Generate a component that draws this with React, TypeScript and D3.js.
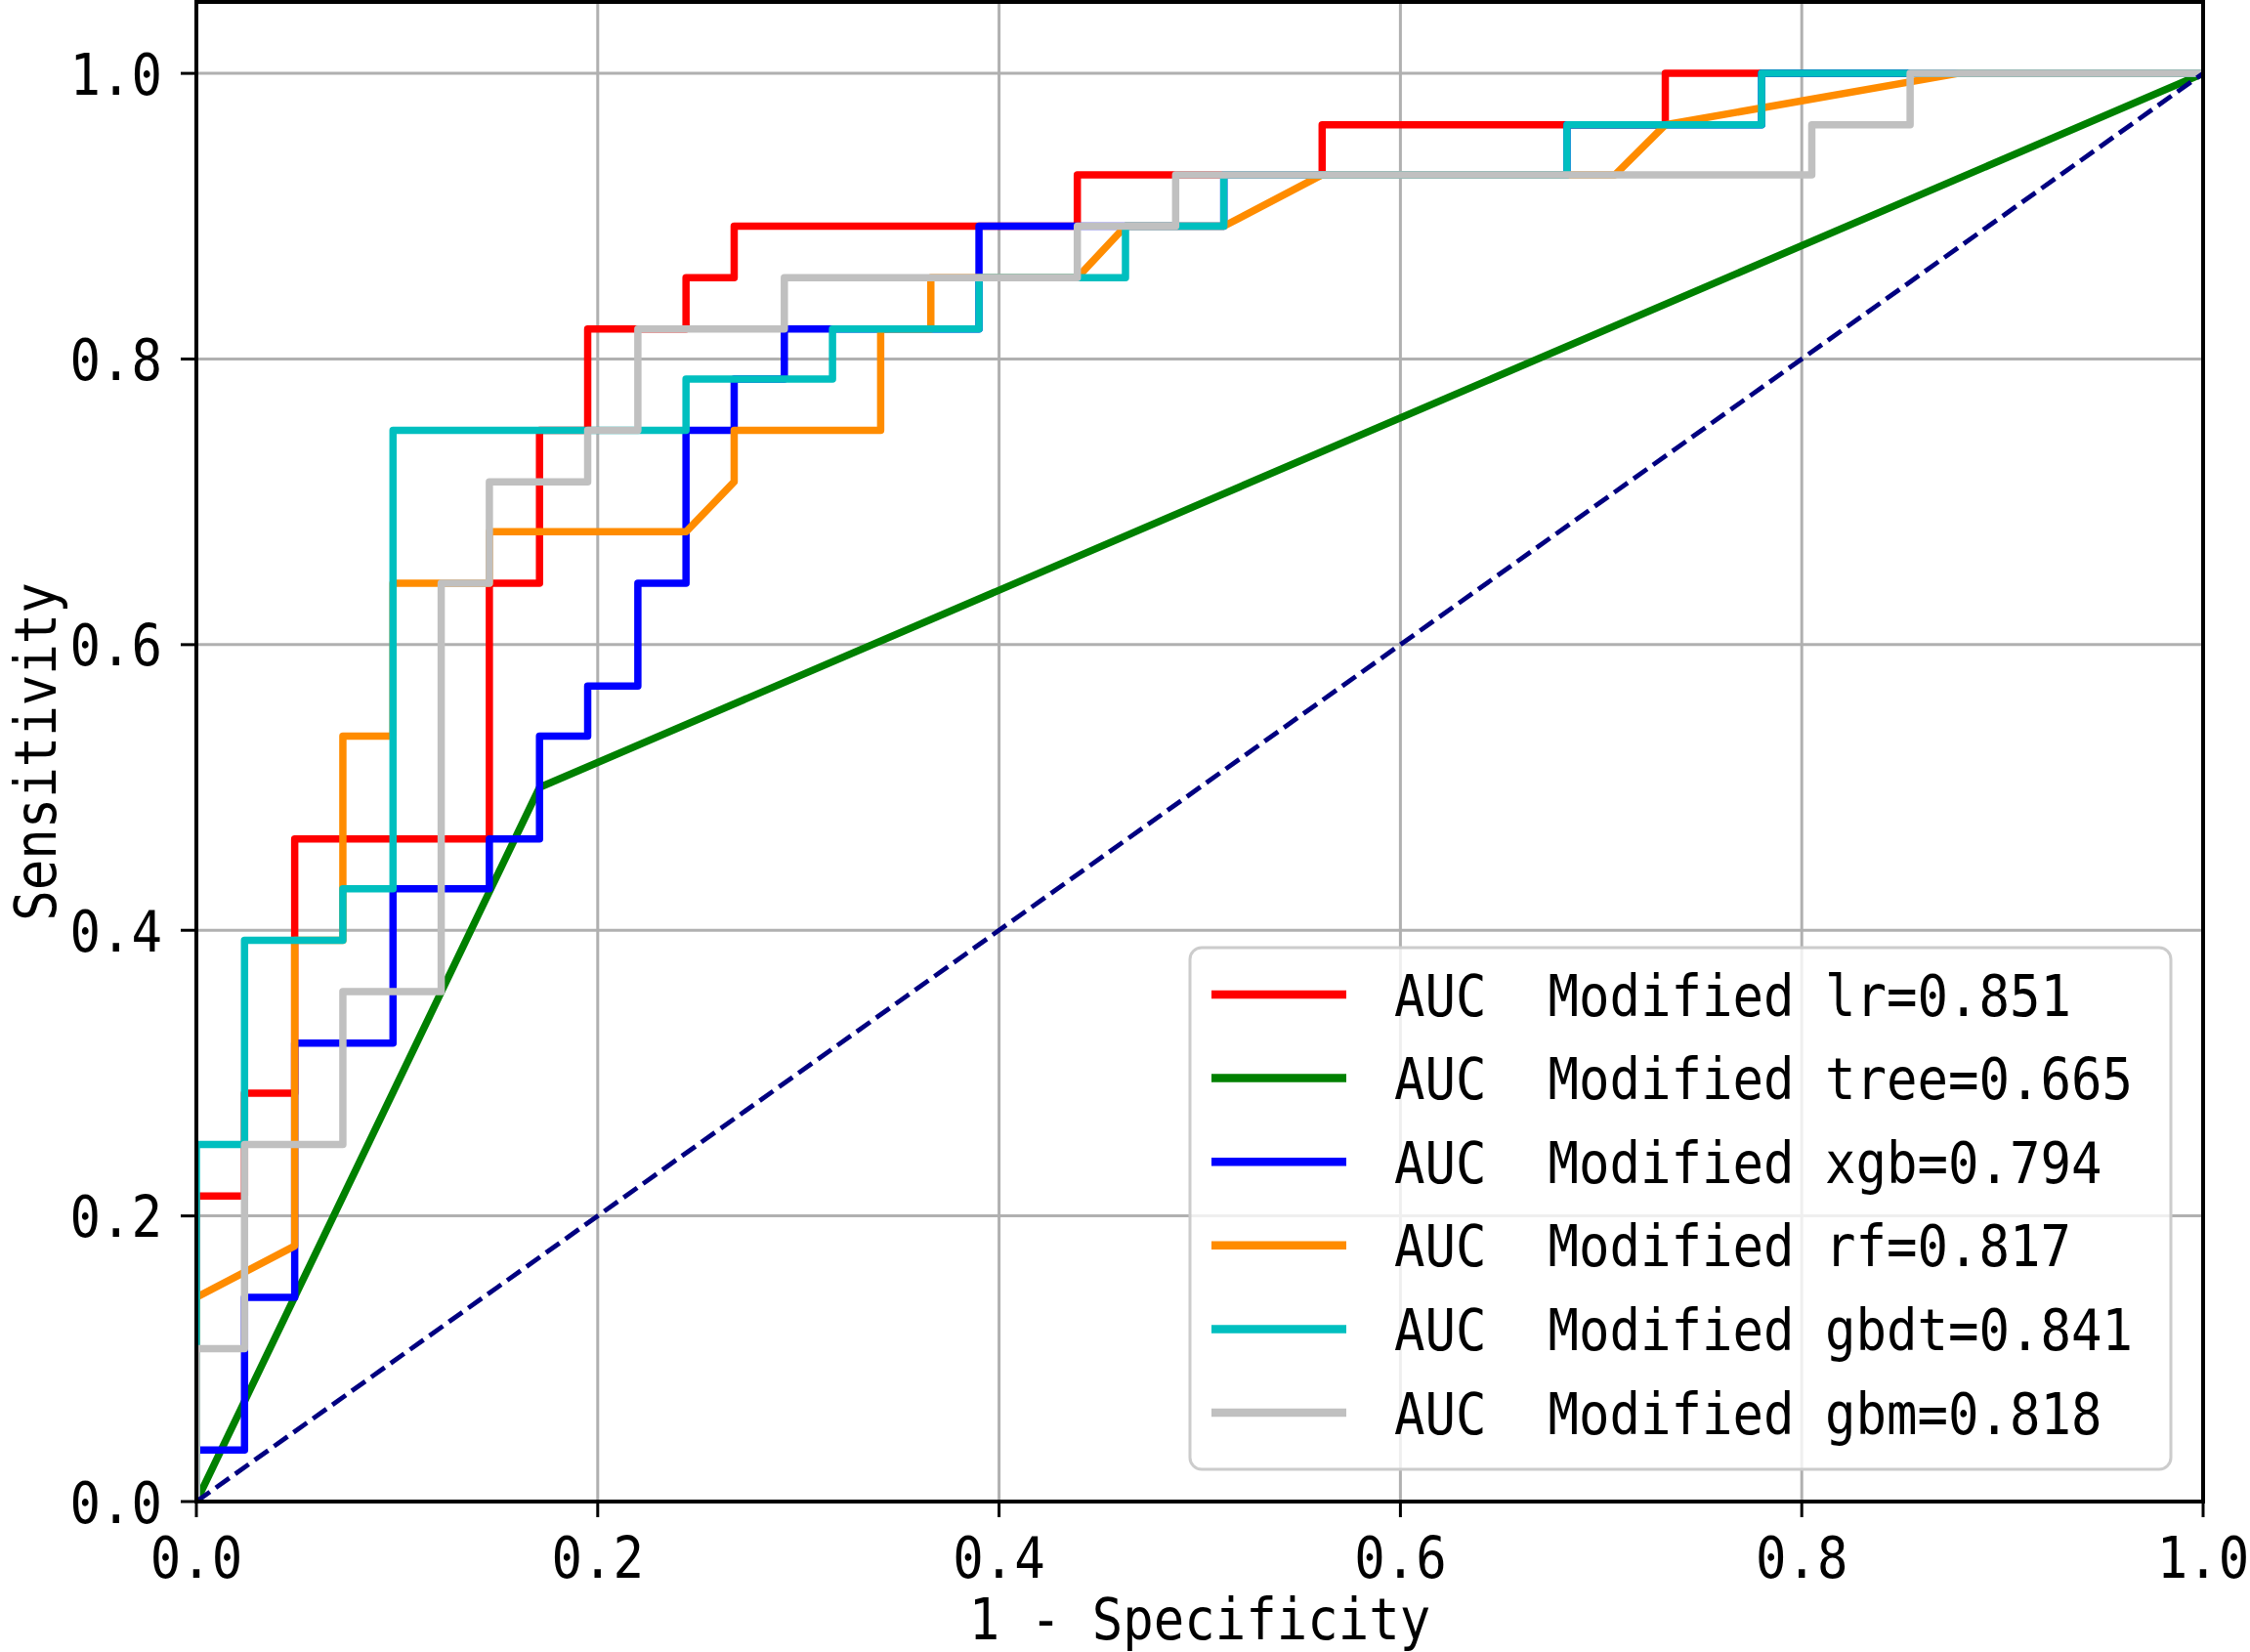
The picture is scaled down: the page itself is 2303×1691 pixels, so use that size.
import * as d3 from "d3";

// ROC points (x = 1 - specificity, y = sensitivity)
const lrFpr = [0, 0, 0.024, 0.024, 0.049, 0.049, 0.146, 0.146, 0.171, 0.171, 0.195, 0.195, 0.244, 0.244, 0.268, 0.268, 0.439, 0.439, 0.561, 0.561, 0.732, 0.732, 1];
const lrTpr = [0, 0.214, 0.214, 0.286, 0.286, 0.464, 0.464, 0.643, 0.643, 0.75, 0.75, 0.821, 0.821, 0.857, 0.857, 0.893, 0.893, 0.929, 0.929, 0.964, 0.964, 1, 1];

const treeFpr = [0, 0.171, 1];
const treeTpr = [0, 0.5, 1];

const xgbFpr = [0, 0, 0.024, 0.024, 0.049, 0.049, 0.098, 0.098, 0.146, 0.146, 0.171, 0.171, 0.195, 0.195, 0.22, 0.22, 0.244, 0.244, 0.268, 0.268, 0.293, 0.293, 0.39, 0.39, 0.512, 0.512, 0.683, 0.683, 0.78, 0.78, 1];
const xgbTpr = [0, 0.036, 0.036, 0.143, 0.143, 0.321, 0.321, 0.429, 0.429, 0.464, 0.464, 0.536, 0.536, 0.571, 0.571, 0.643, 0.643, 0.75, 0.75, 0.786, 0.786, 0.821, 0.821, 0.893, 0.893, 0.929, 0.929, 0.964, 0.964, 1, 1];

const rfFpr = [0, 0, 0.049, 0.049, 0.073, 0.073, 0.098, 0.098, 0.146, 0.146, 0.244, 0.268, 0.268, 0.341, 0.341, 0.366, 0.366, 0.439, 0.463, 0.512, 0.561, 0.707, 0.732, 0.878, 1];
const rfTpr = [0, 0.143, 0.179, 0.393, 0.393, 0.536, 0.536, 0.643, 0.643, 0.679, 0.679, 0.714, 0.75, 0.75, 0.821, 0.821, 0.857, 0.857, 0.893, 0.893, 0.929, 0.929, 0.964, 1, 1];

const gbdtFpr = [0, 0, 0.024, 0.024, 0.073, 0.073, 0.098, 0.098, 0.244, 0.244, 0.317, 0.317, 0.39, 0.39, 0.463, 0.463, 0.512, 0.512, 0.683, 0.683, 0.78, 0.78, 1];
const gbdtTpr = [0, 0.25, 0.25, 0.393, 0.393, 0.429, 0.429, 0.75, 0.75, 0.786, 0.786, 0.821, 0.821, 0.857, 0.857, 0.893, 0.893, 0.929, 0.929, 0.964, 0.964, 1, 1];

const gbmFpr = [0, 0, 0.024, 0.024, 0.073, 0.073, 0.122, 0.122, 0.146, 0.146, 0.195, 0.195, 0.22, 0.22, 0.293, 0.293, 0.439, 0.439, 0.488, 0.488, 0.805, 0.805, 0.854, 0.854, 1];
const gbmTpr = [0, 0.107, 0.107, 0.25, 0.25, 0.357, 0.357, 0.643, 0.643, 0.714, 0.714, 0.75, 0.75, 0.821, 0.821, 0.857, 0.857, 0.893, 0.893, 0.929, 0.929, 0.964, 0.964, 1, 1];

const models = ["lr", "tree", "xgb", "rf", "gbdt", "gbm"];
const aucs = [0.851, 0.665, 0.794, 0.817, 0.841, 0.818];
const colors = ["#ff0000", "#008000", "#0000ff", "#ff8c00", "#00bfbf", "#c0c0c0"];
const fprs = [lrFpr, treeFpr, xgbFpr, rfFpr, gbdtFpr, gbmFpr];
const tprs = [lrTpr, treeTpr, xgbTpr, rfTpr, gbdtTpr, gbmTpr];

const ticks = [0, 0.2, 0.4, 0.6, 0.8, 1.0];

const W = 2303;
const H = 1691;
const FONT = "'DejaVu Sans Mono', monospace";
const FS = 59;
const SX = 0.887; // squeeze to look like the narrow monospaced original

const x = d3.scaleLinear().domain([0, 1]).range([201, 2255]);
const y = d3.scaleLinear().domain([0, 1.05]).range([1537, 2]);
const fmt = d3.format(".1f");

const line = d3
  .line<[number, number]>()
  .x(d => x(d[0]))
  .y(d => y(d[1]));

const Label = ({ tx, ty, anchor = "middle", rotate = 0, children }: any) => (
  <text
    transform={`translate(${tx},${ty}) rotate(${rotate}) scale(${SX},1)`}
    textAnchor={anchor}
    fontFamily={FONT}
    fontSize={FS}
    fill="#000"
    style={{ whiteSpace: "pre" }}
  >
    {children}
  </text>
);

export default function App() {
  const [x0, x1] = x.range();
  const [y0, y1] = y.range();
  const legX = 1218;
  const legY = 970;
  const rowH = 85.6;

  return (
    <svg
      width={W}
      height={H}
      viewBox={`0 0 ${W} ${H}`}
      style={{ position: "absolute", left: 0, top: 0, background: "#fff" }}
    >
      <defs>
        <clipPath id="plot">
          <rect x={x0} y={y1} width={x1 - x0} height={y0 - y1} />
        </clipPath>
      </defs>
      <rect width={W} height={H} fill="#fff" />

      {/* grid */}
      <g stroke="#b0b0b0" strokeWidth={3}>
        {ticks.map(t => (
          <line key={"gx" + t} x1={x(t)} x2={x(t)} y1={y0} y2={y1} />
        ))}
        {ticks.map(t => (
          <line key={"gy" + t} x1={x0} x2={x1} y1={y(t)} y2={y(t)} />
        ))}
      </g>

      {/* curves */}
      <g clipPath="url(#plot)" fill="none" strokeLinejoin="round">
        {models.map((m, i) => (
          <path
            key={m}
            d={line(fprs[i].map((f, k) => [f, tprs[i][k]] as [number, number])) || ""}
            stroke={colors[i]}
            strokeWidth={7.5}
          />
        ))}
        <path
          d={line([[0, 0], [1, 1]]) || ""}
          stroke="#000080"
          strokeWidth={4.8}
          strokeDasharray="17 7.4"
        />
      </g>

      {/* spines */}
      <rect x={x0} y={y1} width={x1 - x0} height={y0 - y1} fill="none" stroke="#000" strokeWidth={4} />

      {/* ticks */}
      <g stroke="#000" strokeWidth={3}>
        {ticks.map(t => (
          <line key={"tx" + t} x1={x(t)} x2={x(t)} y1={y0} y2={y0 + 16} />
        ))}
        {ticks.map(t => (
          <line key={"ty" + t} x1={x0 - 16} x2={x0} y1={y(t)} y2={y(t)} />
        ))}
      </g>
      {ticks.map(t => (
        <Label key={"lx" + t} tx={x(t)} ty={1615}>
          {fmt(t)}
        </Label>
      ))}
      {ticks.map(t => (
        <Label key={"ly" + t} tx={166} ty={y(t) + 21.5} anchor="end">
          {fmt(t)}
        </Label>
      ))}

      <Label tx={(x0 + x1) / 2} ty={1678}>1 - Specificity</Label>
      <Label tx={57} ty={(y0 + y1) / 2} rotate={-90}>Sensitivity</Label>

      {/* legend */}
      <rect
        x={legX}
        y={legY}
        width={1004}
        height={534}
        rx={12}
        fill="#fff"
        fillOpacity={0.8}
        stroke="#cccccc"
        strokeWidth={3}
      />
      {models.map((m, i) => {
        const cy = 1018 + i * rowH;
        return (
          <g key={"leg" + m}>
            <line x1={1240} x2={1378} y1={cy} y2={cy} stroke={colors[i]} strokeWidth={8.5} />
            <Label tx={1427} ty={cy + 21.5} anchor="start">
              {`AUC  Modified ${m}=${aucs[i].toFixed(3)}`}
            </Label>
          </g>
        );
      })}
    </svg>
  );
}
